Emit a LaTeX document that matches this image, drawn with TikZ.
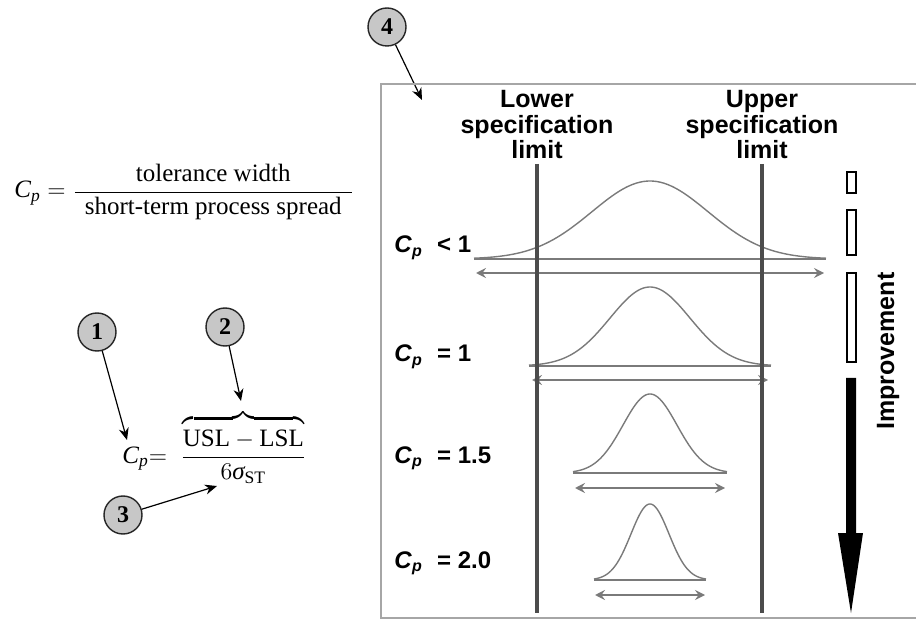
\documentclass[tikz,border=0pt]{standalone}
\usepackage{amsmath}
\usepackage{fontspec}
\setmainfont{Liberation Serif}
\setsansfont{Liberation Sans}
\usetikzlibrary{arrows.meta}

\begin{document}
\begin{tikzpicture}[x=0.5pt, y=-0.5pt,
  callout/.style={circle, draw=black!85, line width=0.7pt, fill=black!22, minimum size=19pt, inner sep=0pt, font=\fontsize{12}{12}\selectfont\bfseries},
  pointer/.style={-{Stealth[length=6pt, width=5pt]}, line width=0.6pt},
  limit/.style={draw=black!70, line width=1.6pt},
  curve/.style={draw=black!52, line width=0.7pt},
  spread/.style={{Stealth[length=5pt, width=5pt, inset=1.8pt]}-{Stealth[length=5pt, width=5pt, inset=1.8pt]}, draw=black!52, line width=0.7pt},
  cplabel/.style={anchor=base west, inner sep=0pt, font=\fontsize{12}{12}\selectfont\sffamily\bfseries},
  head/.style={align=center, anchor=north, inner sep=0pt, font=\fontsize{12.5}{12.75}\selectfont\sffamily\bfseries},
  formula/.style={anchor=base west, inner sep=0pt, font=\fontsize{12.5}{15}\selectfont},
  bar/.style={draw=black, line width=0.6pt}
]
\useasboundingbox (0,0) rectangle (916,620);

\node[formula] (cpdef) at (14,198) {$\textit{C}_{\textit{p}} = \dfrac{\text{tolerance width}}{\hspace{5pt}\text{short-term process spread}\hspace{5pt}}$};
\node[formula] (cpcalc) at (122,463) {$\textit{C}_{\textit{p}}{=}\;\; \dfrac{\overbrace{\rule{0pt}{10.5pt}\text{USL} - \text{LSL}}}{6\textit{σ}_{\text{ST}}}$};

\node[callout] (c1) at (97,332) {1};
\node[callout] (c2) at (225,327) {2};
\node[callout] (c3) at (123,515) {3};
\node[callout] (c4) at (387,27) {4};
\coordinate (t1) at (127,440);
\coordinate (t2) at (241,401);
\coordinate (t3) at (217,486);
\coordinate (t4) at (422,100);
\draw[pointer] (c1) -- (t1);
\draw[pointer] (c2) -- (t2);
\draw[pointer] (c3) -- (t3);
\draw[pointer] (c4) -- (t4);

\draw[draw=black!35, line width=0.8pt] (916,84) -| (381,618) -- (916,618);

\node[head] (lsl) at (537,90) {Lower\\specification\\limit};
\node[head] (usl) at (762,90) {Upper\\specification\\limit};

\foreach \i/\base/\peak/\sig/\half/\arr/\alen in {1/259/78/58/176/273/174, 2/366/79/40/121/380/118, 3/473/79/27/77/488/75, 4/580/76/19/56/595/55}{
  \draw[curve] (650-\half,\base) -- (650+\half,\base);
  \draw[curve] plot[domain=-\half:\half, samples=90, smooth] ({650+\x},{\base-\peak*exp(-0.5*(\x/\sig)^2)});
  \coordinate (l\i) at (650-\alen,\arr);
  \coordinate (r\i) at (650+\alen,\arr);
  \draw[spread] (l\i) -- (r\i);
}

\draw[limit] (537,164) -- (537,613);
\draw[limit] (762,164) -- (762,613);

\node[cplabel] (cpa) at (394,253) {\textit{C}\textsubscript{\textit{p}}\hspace{0.6em}< 1};
\node[cplabel] (cpb) at (394,362) {\textit{C}\textsubscript{\textit{p}}\hspace{0.6em}= 1};
\node[cplabel] (cpc) at (394,463) {\textit{C}\textsubscript{\textit{p}}\hspace{0.6em}= 1.5};
\node[cplabel] (cpd) at (394,568) {\textit{C}\textsubscript{\textit{p}}\hspace{0.6em}= 2.0};

\draw[bar] (847,172) rectangle (856,193);
\draw[bar] (847,210) rectangle (856,255);
\draw[bar] (847,273) rectangle (856,362);
\fill (846,378) -- (856,378) -- (856,533) -- (863,533) -- (851,613) -- (838,533) -- (846,533) -- cycle;
\node[rotate=90, inner sep=0pt, font=\fontsize{12.5}{12.5}\selectfont\sffamily\bfseries] (impr) at (888,351) {Improvement};
\end{tikzpicture}
\end{document}
